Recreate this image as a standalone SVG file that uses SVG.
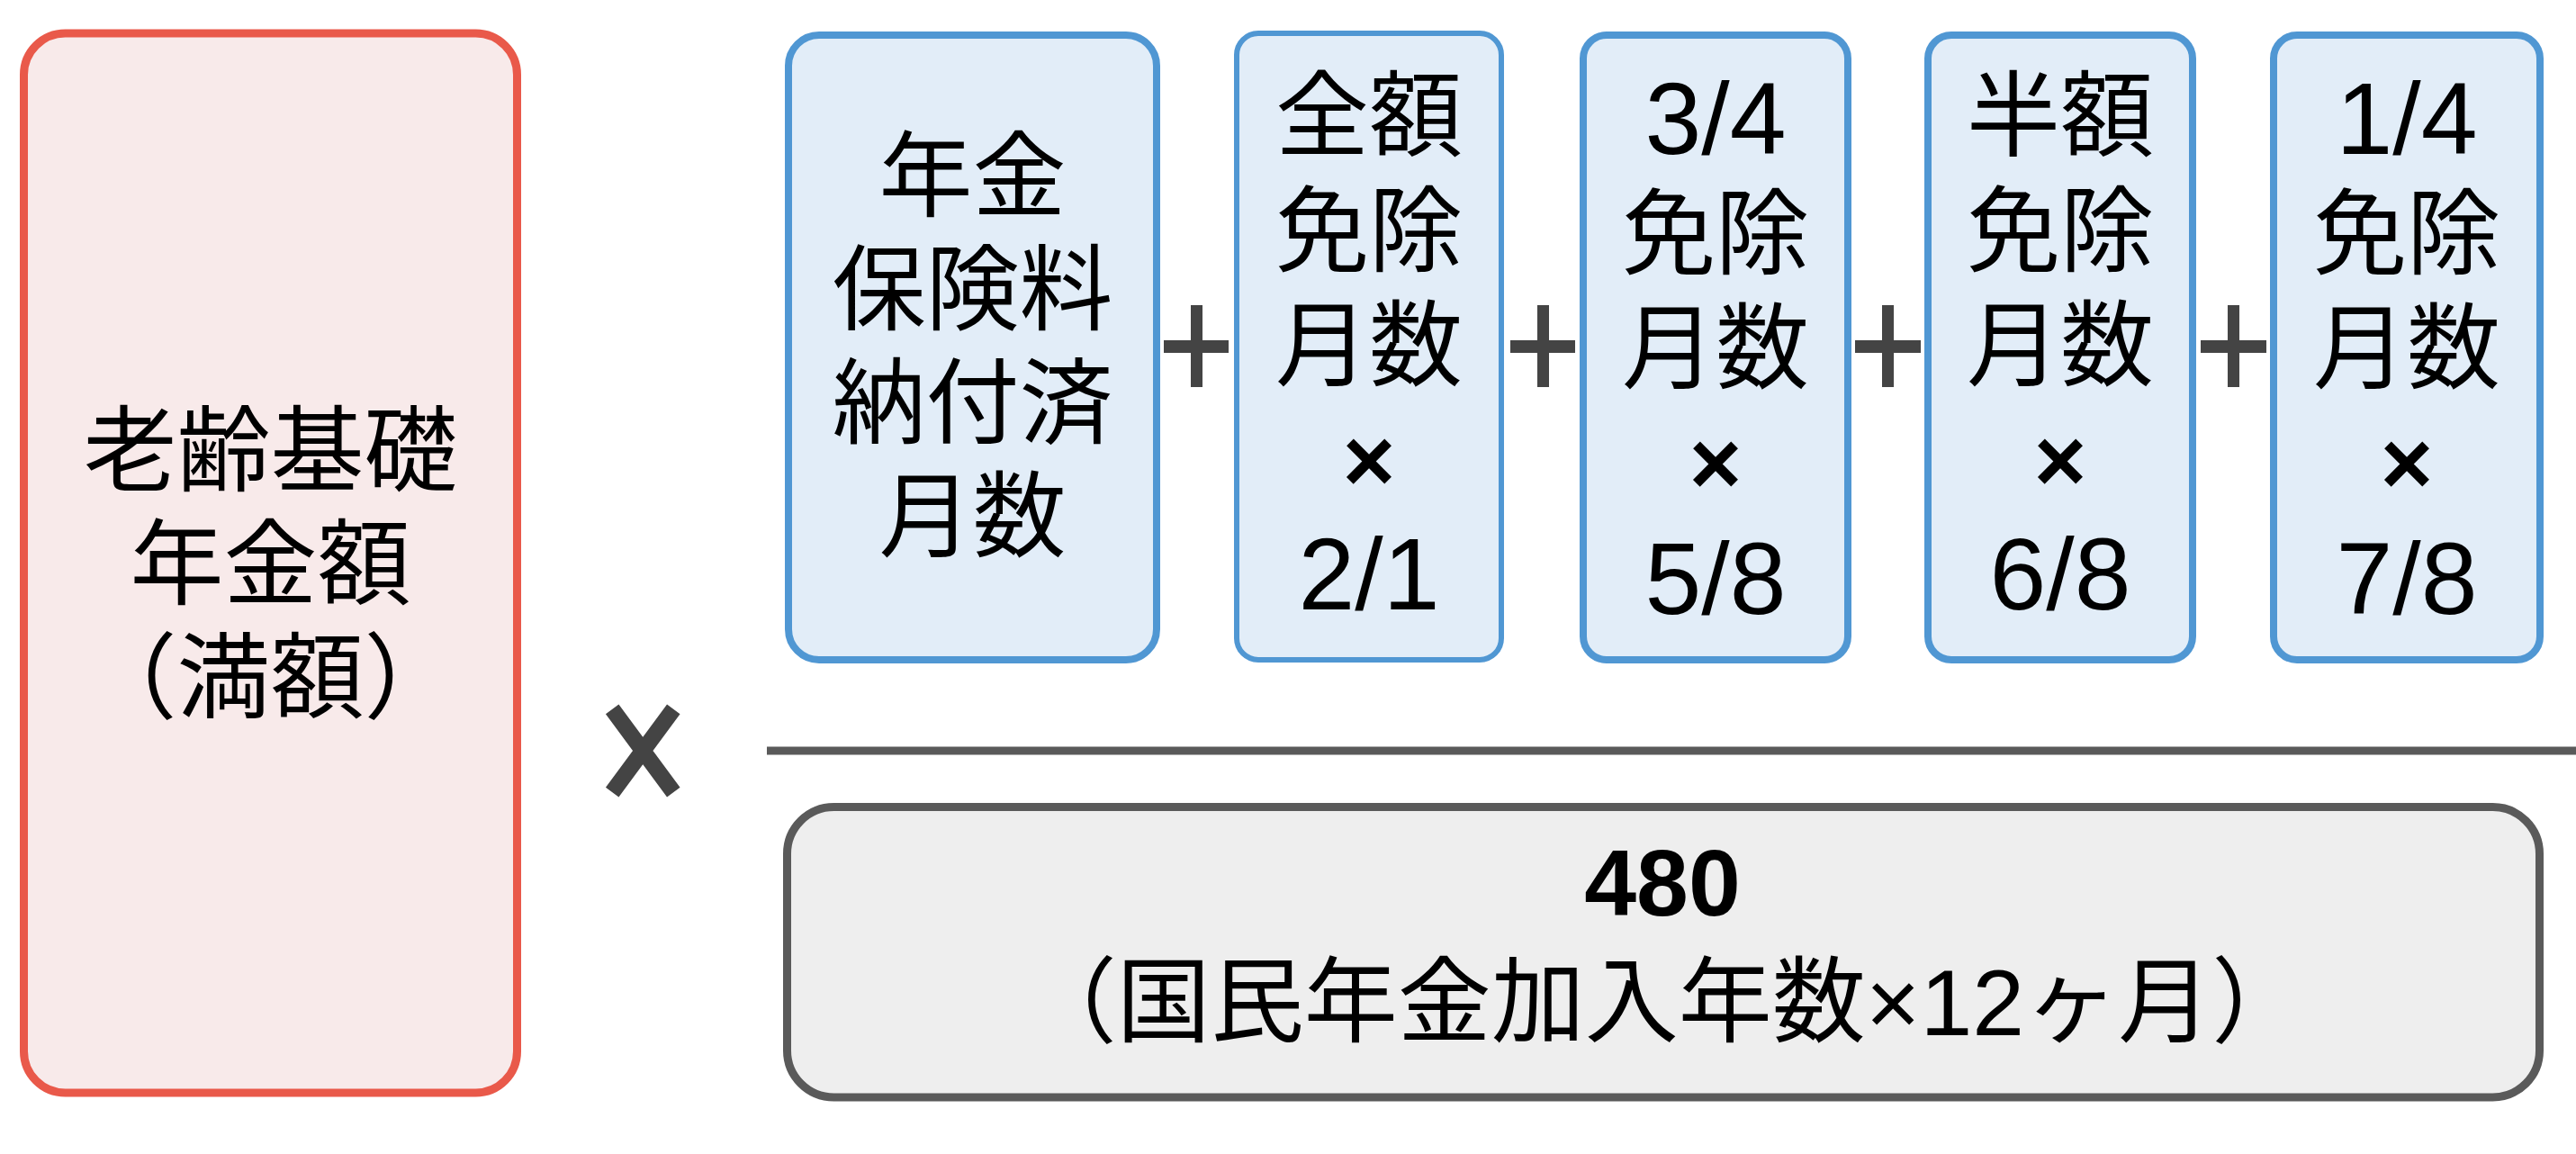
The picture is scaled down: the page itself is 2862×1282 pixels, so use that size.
<svg xmlns="http://www.w3.org/2000/svg" width="2862" height="1282" viewBox="0 0 2862 1282">
<style>
.t{font-family:"Liberation Sans","Noto Sans CJK JP",sans-serif;font-size:104px;fill:#000;text-anchor:middle}
.b{font-weight:bold}
.n{font-size:113px}
.x{font-weight:bold;font-size:100px}
.red{fill:#F8EAEA;stroke:#E9594A;stroke-width:9}
.blue{fill:#E2EDF8;stroke:#5097D3;stroke-width:8}
.gray{fill:#EEEEEE;stroke:#5A5A5A;stroke-width:9}
.op{fill:#444444}
.opl{stroke:#444444;stroke-width:18;fill:none}
</style>
<rect width="2862" height="1282" fill="#FFFFFF"/>
<g id="node-full">
<rect class="red" x="26.5" y="37" width="548" height="1177" rx="46"/>
<text class="t" x="300.5"><tspan x="300.5" y="538">老齢基礎</tspan><tspan x="300.5" y="664">年金額</tspan><tspan x="300.5" y="790">（満額）</tspan></text>
</g>
<g id="node-paid">
<rect class="blue" x="876" y="39" width="409" height="694" rx="34"/>
<text class="t"><tspan x="1080.5" y="233">年金</tspan><tspan x="1080.5" y="359">保険料</tspan><tspan x="1080.5" y="485">納付済</tspan><tspan x="1080.5" y="611">月数</tspan></text>
</g>
<g id="node-full-exempt">
<rect class="blue" x="1374" y="37" width="294" height="696" rx="24" style="stroke-width:6"/>
<text class="t"><tspan x="1521" y="166">全額</tspan><tspan x="1521" y="293.5">免除</tspan><tspan x="1521" y="421">月数</tspan><tspan class="x" x="1521" y="546">×</tspan><tspan class="n" x="1521" y="677">2/1</tspan></text>
</g>
<g id="node-34-exempt">
<rect class="blue" x="1759" y="39" width="294" height="694" rx="26"/>
<text class="t"><tspan class="n" x="1906" y="171">3/4</tspan><tspan x="1906" y="297">免除</tspan><tspan x="1906" y="424">月数</tspan><tspan class="x" x="1906" y="549">×</tspan><tspan class="n" x="1906" y="682">5/8</tspan></text>
</g>
<g id="node-half-exempt">
<rect class="blue" x="2142" y="39" width="294" height="694" rx="26"/>
<text class="t"><tspan x="2289" y="166">半額</tspan><tspan x="2289" y="293.5">免除</tspan><tspan x="2289" y="421">月数</tspan><tspan class="x" x="2289" y="546">×</tspan><tspan class="n" x="2289" y="677">6/8</tspan></text>
</g>
<g id="node-14-exempt">
<rect class="blue" x="2526" y="39" width="296" height="694" rx="26"/>
<text class="t"><tspan class="n" x="2674" y="171">1/4</tspan><tspan x="2674" y="297">免除</tspan><tspan x="2674" y="424">月数</tspan><tspan class="x" x="2674" y="549">×</tspan><tspan class="n" x="2674" y="682">7/8</tspan></text>
</g>
<g id="node-denominator">
<rect class="gray" x="874.5" y="896.5" width="1947" height="322.5" rx="52"/>
<text class="t b" x="1847" y="1017">480</text>
<text class="t" x="1849" y="1150">（国民年金加入年数×12ヶ月）</text>
</g>
<g id="connectors">
<path class="opl" d="M680.2 787.8L748.3 880.2M748.3 787.8L680.2 880.2"/>
<line x1="852" y1="834" x2="2862" y2="834" stroke="#5A5A5A" stroke-width="9"/>
<g class="op">
<rect x="1293" y="378" width="72" height="14"/><rect x="1323" y="339" width="13" height="91"/>
<rect x="1678" y="378" width="72" height="14"/><rect x="1708" y="339" width="13" height="91"/>
<rect x="2061" y="378" width="73" height="14"/><rect x="2091" y="339" width="13" height="91"/>
<rect x="2445" y="378" width="73" height="14"/><rect x="2475" y="339" width="13" height="91"/>
</g>
</g>
</svg>
